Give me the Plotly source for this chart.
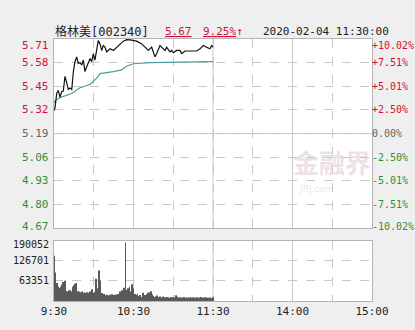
import plotly.graph_objects as go

# ---------------- data ----------------
PREV_CLOSE = 5.19
stock_name = "格林美[002340]"
last_price = "5.67"
last_pct = "9.25%↑"
timestamp = "2020-02-04 11:30:00"

# minutes since 9:30 (11:30 == 120, 15:00 == 240)
price_min = [0, 0.75, 2, 3.2, 4.5, 5.8, 7, 8.3, 9.6, 10.8, 12, 13.4, 14.6, 15.8, 17.1, 18.3,
             19.6, 20.9, 22.1, 23.4, 24.7, 25.9, 27.2, 28.4, 29.7, 30.9, 32.2, 33.4, 34.7,
             36, 37.2, 38.5, 39.8, 42.3, 44.8, 47.3, 49.8, 52.3, 54.9, 57.4, 62.4, 66.2,
             68.7, 71.2, 73.7, 76.2, 77.5, 80, 82.5, 83.8, 85, 87.5, 88.8, 90.1, 92.6,
             95.1, 96.4, 98.9, 102.6, 107.7, 110.2, 112.7, 115.2, 117.7, 119, 120]
price_val = [5.317, 5.33, 5.41, 5.428, 5.39, 5.42, 5.424, 5.505, 5.469, 5.433, 5.44, 5.433,
             5.53, 5.585, 5.612, 5.576, 5.58, 5.567, 5.594, 5.531, 5.558, 5.58, 5.603, 5.585,
             5.63, 5.594, 5.647, 5.701, 5.683, 5.647, 5.674, 5.665, 5.639, 5.656, 5.647,
             5.665, 5.683, 5.698, 5.706, 5.705, 5.698, 5.683, 5.665, 5.647, 5.665, 5.612,
             5.63, 5.674, 5.656, 5.647, 5.665, 5.639, 5.647, 5.635, 5.647, 5.647, 5.63,
             5.644, 5.644, 5.644, 5.656, 5.674, 5.665, 5.656, 5.674, 5.665]

avg_min = [0, 0.75, 4.5, 13.4, 19.6, 27.2, 32.2, 34.7, 44.8, 51, 55, 60, 72, 100, 120]
avg_val = [5.36, 5.37, 5.388, 5.41, 5.442, 5.46, 5.495, 5.52, 5.531, 5.54, 5.562, 5.574,
           5.58, 5.583, 5.586]

vol_min = list(range(121))
vol_val = [143000, 90000, 57000, 46000, 41000, 45000, 52000, 60000, 64000, 31000,
           30000, 33000, 34000, 30000, 45000, 50000, 55000, 58000, 31000, 29000,
           28000, 30000, 26000, 28000, 25000, 28000, 26000, 30000, 25000, 37000,
           26000, 28000, 70000, 40000, 96000, 65000, 25000, 20000, 22000, 18000,
           20000, 17000, 20000, 18000, 21000, 19000, 20000, 20000, 22000, 20000,
           30000, 34000, 28000, 42000, 185000, 35000, 40000, 45000, 30000, 53000,
           40000, 22000, 20000, 23000, 16000, 19000, 13000, 26000, 19000, 19000,
           21000, 26000, 27000, 31000, 21000, 16000, 13000, 14000, 17000, 12000,
           14000, 11000, 14000, 12000, 11000, 13000, 11000, 10000, 12000, 11000,
           12000, 12000, 18000, 14000, 11000, 12000, 10000, 11000, 13000, 10000,
           12000, 10000, 11000, 13000, 10000, 12000, 11000, 10000, 12000, 10000,
           11000, 13000, 10000, 11000, 9000, 12000, 10000, 9000, 11000, 9000, 12000]

price_ticks = [4.67, 4.80, 4.93, 5.06, 5.19, 5.32, 5.45, 5.58, 5.71]
pct_ticks = [-10.02, -7.51, -5.01, -2.50, 0.00, 2.50, 5.01, 7.51, 10.02]
vol_ticks = [63351, 126701, 190052]
time_ticks = [0, 30, 60, 90, 120, 150, 180, 210, 240]
time_labels = ["9:30", "", "10:30", "", "11:30", "", "14:00", "", "15:00"]
solid_times = [60, 120, 180]

# ---------------- style ----------------
RED = "#d0103a"
GREEN = "#2f8f3a"
GRAY = "#666666"
GRID = "#c8c8c8"
BORDER = "#b4b4b4"
FONT = "DejaVu Sans Mono, Noto Sans CJK SC, monospace"


def col(v, ref):
    if abs(v - ref) < 1e-9:
        return GRAY
    return RED if v > ref else GREEN


def pct_str(p):
    if p == 0:
        return "0.00%"
    return f"+{p:.2f}%" if p > 0 else f"-{abs(p):.2f}%"


pct_of_price = [(p / PREV_CLOSE - 1) * 100 for p in price_val]

fig = go.Figure()
fig.add_trace(go.Scatter(x=avg_min, y=avg_val, mode="lines",
                         line=dict(color="#4c9c9a", width=1.2), xaxis="x", yaxis="y",
                         hoverinfo="skip"))
fig.add_trace(go.Scatter(x=price_min, y=price_val, mode="lines",
                         line=dict(color="#111111", width=1.2), xaxis="x", yaxis="y",
                         hoverinfo="skip"))
fig.add_trace(go.Scatter(x=price_min, y=pct_of_price, mode="lines",
                         line=dict(color="rgba(0,0,0,0)", width=0), xaxis="x", yaxis="y3",
                         hoverinfo="skip"))
fig.add_trace(go.Bar(x=vol_min, y=vol_val, marker=dict(color="#5a5a5a", line=dict(width=0)),
                     xaxis="x2", yaxis="y2", hoverinfo="skip"))

axis_common = dict(showline=True, linecolor=BORDER, linewidth=1, mirror=True,
                   zeroline=False, showgrid=True, gridcolor=GRID, gridwidth=1,
                   griddash="dash", ticks="", fixedrange=True)

shapes = []
for t in solid_times:
    shapes.append(dict(type="line", xref="x", yref="paper", x0=t, x1=t, y0=0.2778, y1=1,
                       line=dict(color=GRID, width=1), layer="below"))
    shapes.append(dict(type="line", xref="x2", yref="paper", x0=t, x1=t, y0=0, y1=0.2296,
                       line=dict(color=GRID, width=1), layer="below"))
shapes.append(dict(type="line", xref="paper", yref="y", x0=0, x1=1, y0=PREV_CLOSE,
                   y1=PREV_CLOSE, line=dict(color=GRID, width=1), layer="below"))

annotations = [
    dict(text=stock_name, xref="paper", yref="paper", x=-0.004, y=1.03, xanchor="left",
         yanchor="middle", showarrow=False, font=dict(size=12, color="#222222", family=FONT)),
    dict(text=f"<span style='text-decoration:underline'>{last_price}</span>", xref="paper",
         yref="paper", x=0.342, y=1.03, xanchor="left", yanchor="middle", showarrow=False,
         font=dict(size=11, color=RED, family=FONT)),
    dict(text=f"<span style='text-decoration:underline'>{last_pct[:-1]}</span>{last_pct[-1]}",
         xref="paper", yref="paper", x=0.462, y=1.03, xanchor="left", yanchor="middle",
         showarrow=False, font=dict(size=11, color=RED, family=FONT)),
    dict(text=timestamp, xref="paper", yref="paper", x=0.652, y=1.03, xanchor="left",
         yanchor="middle", showarrow=False, font=dict(size=11, color="#222222", family=FONT)),
    dict(text="<b>金融界</b>", xref="x", yref="y", x=210, y=5.035, showarrow=False,
         font=dict(size=26, color="rgba(215,190,192,0.45)", family="Noto Sans CJK SC")),
    dict(text="JRJ.com", xref="x", yref="y", x=198, y=4.885, showarrow=False,
         font=dict(size=9, color="rgba(215,190,192,0.45)", family="DejaVu Sans")),
]

# y-axis labels as annotations (edge labels nudged inward like the reference)
n = len(price_ticks)
for i, (p, q) in enumerate(zip(price_ticks, pct_ticks)):
    ys = -6 if i == n - 1 else (2 if i == 0 else 0)
    annotations.append(dict(text=f"{p:.2f}", xref="paper", yref="y", x=0, y=p,
                            xanchor="right", yanchor="middle", xshift=-3, yshift=ys,
                            showarrow=False,
                            font=dict(size=11, color=col(p, PREV_CLOSE), family=FONT)))
    annotations.append(dict(text=pct_str(q), xref="paper", yref="y", x=1, y=p,
                            xanchor="left", yanchor="middle", xshift=-2, yshift=ys,
                            showarrow=False,
                            font=dict(size=10, color=col(q, 0), family=FONT)))
for i, v in enumerate(vol_ticks):
    ys = -4 if i == len(vol_ticks) - 1 else 0
    annotations.append(dict(text=str(v), xref="paper", yref="y2", x=0, y=v,
                            xanchor="right", yanchor="middle", xshift=-3, yshift=ys,
                            showarrow=False,
                            font=dict(size=10, color="#222222", family=FONT)))

fig.update_layout(
    width=415, height=330,
    margin=dict(l=54, r=43, t=39, b=21, pad=0),
    paper_bgcolor="#efefef", plot_bgcolor="#ffffff",
    showlegend=False, bargap=0.35,
    font=dict(family=FONT, size=10, color="#333333"),
    xaxis=dict(domain=[0, 1], range=[0, 240], anchor="y", tickvals=time_ticks,
               showticklabels=False, **axis_common),
    yaxis=dict(domain=[0.2778, 1], range=[4.67, 5.71], anchor="x", tickvals=price_ticks,
               showticklabels=False, **axis_common),
    yaxis3=dict(overlaying="y", side="right", anchor="x", range=[-10.02, 10.02],
                showticklabels=False, showgrid=False, zeroline=False,
                showline=False, ticks="", fixedrange=True),
    xaxis2=dict(domain=[0, 1], range=[0, 240], anchor="y2", tickvals=time_ticks,
                ticktext=time_labels, tickfont=dict(size=11, family=FONT, color="#222222"),
                **axis_common),
    yaxis2=dict(domain=[0, 0.2296], range=[0, 190052], anchor="x2", tickvals=vol_ticks,
                showticklabels=False, **axis_common),
    shapes=shapes,
    annotations=annotations,
)

fig.write_html("out.html")
